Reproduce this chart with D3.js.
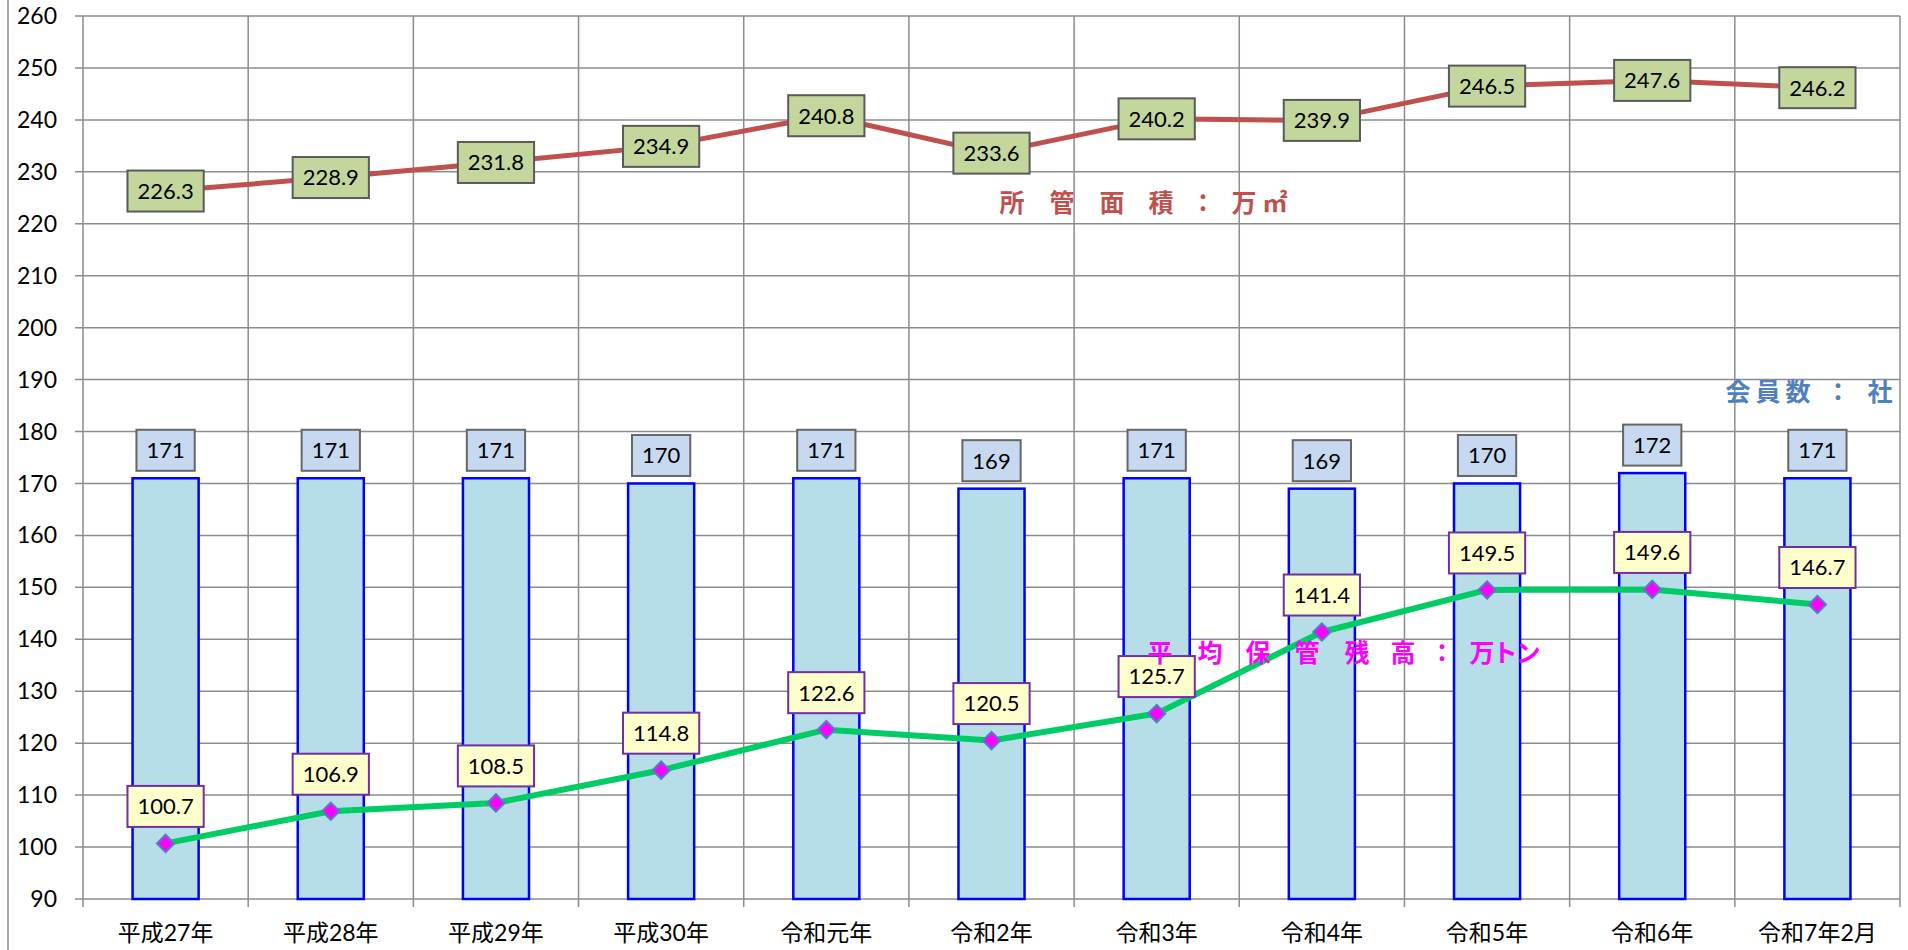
<!DOCTYPE html>
<html><head><meta charset="utf-8">
<script src="https://cdn.jsdelivr.net/npm/d3@7"></script>
<style>
html,body{margin:0;padding:0;background:#fff;}
svg{display:block;}
text{font-family:Lato,"Noto Sans CJK JP",sans-serif;}
</style></head>
<body>
<svg id="chart" width="1908" height="950"></svg>
<script>
const categories = ["平成27年","平成28年","平成29年","平成30年","令和元年","令和2年","令和3年","令和4年","令和5年","令和6年","令和7年2月"];
const areaValues = [226.3,228.9,231.8,234.9,240.8,233.6,240.2,239.9,246.5,247.6,246.2];   // 所管面積：万㎡
const memberValues = [171,171,171,170,171,169,171,169,170,172,171];                       // 会員数：社
const stockValues = [100.7,106.9,108.5,114.8,122.6,120.5,125.7,141.4,149.5,149.6,146.7];  // 平均保管残高：万トン
const yTicks = [90,100,110,120,130,140,150,160,170,180,190,200,210,220,230,240,250,260];
const areaLegend = "所管面積：万㎡";
const memberLegend = "会員数：社";
const stockLegend = "平均保管残高：万トン";

(function(){
const svg = d3.select("#chart");
const pL = 83, pR = 1900, pT = 16, pB = 899;

const x = d3.scaleBand().domain(categories).range([pL, pR]).padding(0);
const y = d3.scaleLinear().domain([90, 260]).range([pB, pT]);
const cx = d => x(d) + x.bandwidth() / 2;

// outer left border
svg.append("line").attr("x1", 8).attr("x2", 8).attr("y1", 0).attr("y2", 950)
  .attr("stroke", "#8c8c8c").attr("stroke-width", 1.5);

// horizontal gridlines + y tick labels
const gy = svg.append("g");
gy.selectAll("line").data(yTicks).join("line")
  .attr("x1", pL - 8).attr("x2", pR)
  .attr("y1", d => y(d)).attr("y2", d => y(d))
  .attr("stroke", "#8c8c8c").attr("stroke-width", 1.5);
gy.selectAll("text").data(yTicks).join("text")
  .attr("x", 57).attr("y", d => y(d)).attr("dy", "0.35em")
  .attr("text-anchor", "end").attr("font-size", 23).attr("fill", "#000")
  .text(d => d);

// vertical gridlines at category boundaries
const bounds = categories.map(c => x(c)).concat([pR]);
svg.append("g").selectAll("line").data(bounds).join("line")
  .attr("x1", d => d).attr("x2", d => d)
  .attr("y1", pT).attr("y2", pB + 8)
  .attr("stroke", "#8c8c8c").attr("stroke-width", 1.5);

// x labels
svg.append("g").selectAll("text").data(categories).join("text")
  .attr("x", d => cx(d)).attr("y", 933).attr("dy", "0.35em")
  .attr("text-anchor", "middle").attr("font-size", 23)
  .attr("font-family", "'Noto Sans CJK JP',sans-serif").attr("fill", "#000")
  .text(d => d);

// bars
const bw = x.bandwidth() * 0.4;
svg.append("g").selectAll("rect").data(memberValues).join("rect")
  .attr("x", (d, i) => cx(categories[i]) - bw / 2)
  .attr("width", bw)
  .attr("y", d => y(d))
  .attr("height", d => pB - y(d))
  .attr("fill", "#b7dde8").attr("stroke", "#0000ff").attr("stroke-width", 2.5);

// helper for boxed labels
function boxLabel(g, px, py, txt, fill, stroke) {
  const grp = g.append("g");
  const rect = grp.append("rect");
  const t = grp.append("text").attr("x", px).attr("y", py).attr("dy", "0.36em")
    .attr("text-anchor", "middle").attr("font-size", 22).attr("fill", "#000").text(txt);
  const w = t.node().getComputedTextLength() + 20, h = 41;
  rect.attr("x", px - w / 2).attr("y", py - h / 2).attr("width", w).attr("height", h)
    .attr("fill", fill).attr("stroke", stroke).attr("stroke-width", 2);
}

// bar labels
const gBarLab = svg.append("g");
memberValues.forEach((v, i) => boxLabel(gBarLab, cx(categories[i]), y(v) - 28, String(v), "#c6d9f1", "#666666"));

// lines
const line = d3.line().x((d, i) => cx(categories[i])).y(d => y(d));
svg.append("path").datum(areaValues).attr("d", line)
  .attr("fill", "none").attr("stroke", "#c0504d").attr("stroke-width", 5).attr("stroke-linejoin", "round");
svg.append("path").datum(stockValues).attr("d", line)
  .attr("fill", "none").attr("stroke", "#00cc66").attr("stroke-width", 6).attr("stroke-linejoin", "round");

// stock markers
svg.append("g").selectAll("path").data(stockValues).join("path")
  .attr("d", d3.symbol().type(d3.symbolSquare).size(150))
  .attr("transform", (d, i) => `translate(${cx(categories[i])},${y(d)}) rotate(45)`)
  .attr("fill", "#ff00ff").attr("stroke", "#4f81bd").attr("stroke-width", 2);

// area labels (centered on points)
const gArea = svg.append("g");
areaValues.forEach((v, i) => boxLabel(gArea, cx(categories[i]), y(v), v.toFixed(1), "#c3d69b", "#5a5a5a"));

// stock labels (above points)
const gStock = svg.append("g");
stockValues.forEach((v, i) => boxLabel(gStock, cx(categories[i]), y(v) - 37, v.toFixed(1), "#ffffcc", "#7030a0"));

// annotations
function spacedText(chars, xs, yy, color) {
  svg.append("text")
    .attr("x", xs.join(" ")).attr("y", yy).attr("dy", "0.36em")
    .attr("text-anchor", "middle").attr("font-size", 25).attr("font-weight", "bold")
    .attr("font-family", "'Noto Sans CJK JP',sans-serif").attr("fill", color)
    .text(chars);
}
spacedText(areaLegend, [1012, 1062, 1112, 1161, 1203, 1244, 1275], 203, "#c0504d");
spacedText(memberLegend, [1738, 1768, 1798, 1838, 1880], 392, "#4f81bd");
spacedText(stockLegend, [1160, 1210, 1258, 1307, 1357, 1403, 1442, 1482, 1505, 1528], 653, "#ff00ff");
})();
</script>
</body></html>
